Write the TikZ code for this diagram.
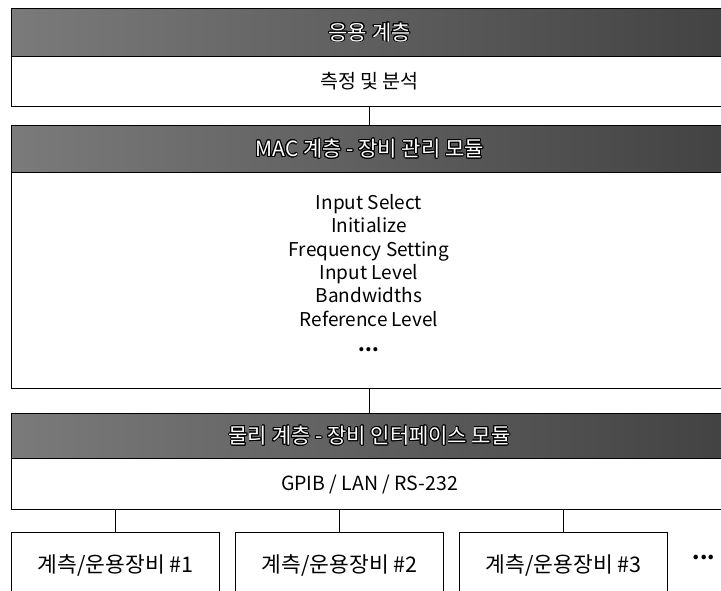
\documentclass[tikz,border=0pt]{standalone}
\usepackage{fontspec}
\setmainfont{Noto Sans CJK KR}
\usepackage{contour}
\contourlength{0.9pt}
\begin{document}
\begin{tikzpicture}[x=1pt,y=-1pt,
  frame/.style={draw=black, line width=1.3pt, rectangle, anchor=north west, inner sep=0pt},
  bar/.style={frame, left color=black!52, right color=black!74, text=white, font=\fontsize{21}{25}\selectfont},
  whitebox/.style={frame, fill=white, font=\fontsize{19.5}{23}\selectfont},
  devbox/.style={frame, fill=white, minimum width=208pt, minimum height=66pt, font=\fontsize{21.5}{25}\selectfont},
  conn/.style={draw=black, line width=1.2pt}]
\useasboundingbox (0,0) rectangle (721,590);
\clip (0,0) rectangle (721,590);
\fill[white] (0,0) rectangle (721,590);
% application layer
\node[bar, minimum width=716pt, minimum height=48pt] (appbar) at (11,8) {\contour{black}{응용 계층}};
\node[whitebox, minimum width=716pt, minimum height=50pt] (appbox) at (11,56) {측정 및 분석};
% MAC layer
\node[bar, minimum width=716pt, minimum height=47pt] (macbar) at (11,125) {\contour{black}{MAC 계층 - 장비 관리 모듈}};
\node[whitebox, minimum width=716pt, minimum height=216pt] (macbox) at (11,172) {};
\node[font=\fontsize{19}{23.3}\selectfont, align=center, inner sep=0pt] (maclist) at (369,273)
  {Input Select\\Initialize\\Frequency Setting\\Input Level\\Bandwidths\\Reference Level\\[2pt]\textbf{...}};
% physical layer
\node[bar, minimum width=716pt, minimum height=45pt] (phybar) at (11,413) {\contour{black}{물리 계층 - 장비 인터페이스 모듈}};
\node[whitebox, minimum width=716pt, minimum height=51pt] (phybox) at (11,458) {GPIB / LAN / RS-232};
% devices
\node[devbox] (dev1) at (11,532) {\raisebox{4pt}{계측/운용장비 \#1}};
\node[devbox] (dev2) at (235,532) {\raisebox{4pt}{계측/운용장비 \#2}};
\node[devbox] (dev3) at (459,532) {\raisebox{4pt}{계측/운용장비 \#3}};
\node[font=\fontsize{21}{25}\selectfont\bfseries, inner sep=0pt] (more) at (704,557) {...};
% connectors
\draw[conn] (appbox.south) -- (macbar.north);
\draw[conn] (macbox.south) -- (phybar.north);
\draw[conn] (phybox.south -| dev1.north) -- (dev1.north);
\draw[conn] (phybox.south -| dev2.north) -- (dev2.north);
\draw[conn] (phybox.south -| dev3.north) -- (dev3.north);
\end{tikzpicture}
\end{document}
